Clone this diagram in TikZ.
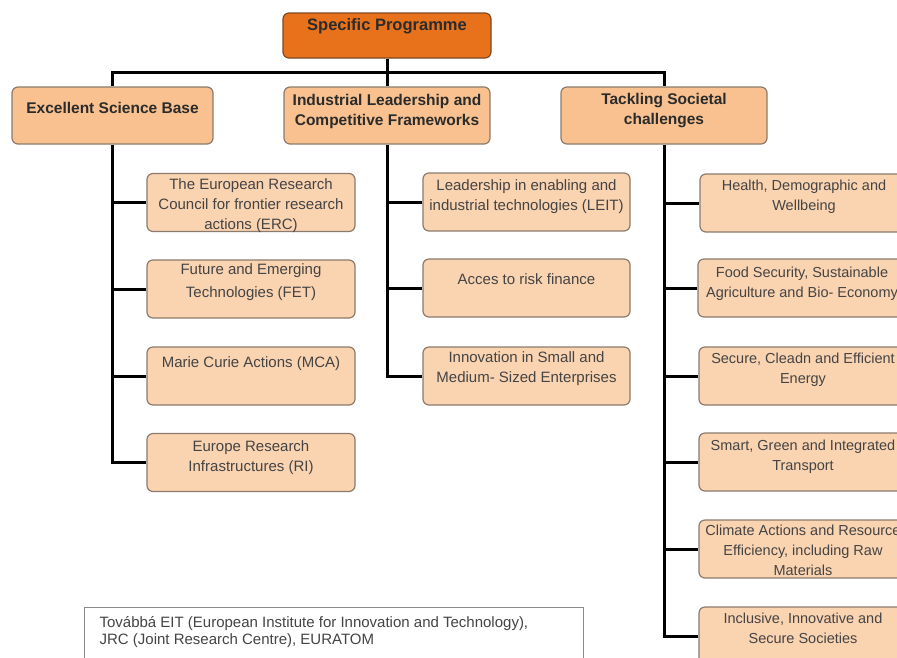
\documentclass[tikz,border=0pt]{standalone}
\usepackage{fontspec}
\setmainfont{Liberation Sans}
\definecolor{topfill}{HTML}{E8721C}
\definecolor{topdraw}{HTML}{7E4A24}
\definecolor{lvfill}{HTML}{F8C18F}
\definecolor{chfill}{HTML}{FAD3B1}
\definecolor{bxdraw}{HTML}{8C7B6C}
\definecolor{hdtxt}{HTML}{2B2B2B}
\definecolor{chtxt}{HTML}{444444}
\definecolor{notedraw}{HTML}{8A8A8A}
\newcommand{\tx}[4]{\vbox to #1pt{\vskip #3pt\hbox to #2pt{\hss\begin{tabular}[t]{@{}c@{}}#4\end{tabular}\hss}\vss}}
\begin{document}
\begin{tikzpicture}[x=1pt,y=-1pt,
  box/.style={draw=bxdraw, line width=1.2pt, rounded corners=6pt, inner sep=0pt},
  topbox/.style={box, fill=topfill, draw=topdraw, text=hdtxt, font=\bfseries\fontsize{16.5}{20}\selectfont},
  lvbox/.style={box, fill=lvfill, text=hdtxt, font=\bfseries\fontsize{15.5}{20.5}\selectfont},
  chbox/.style={box, fill=chfill, text=chtxt, font=\fontsize{15}{20}\selectfont},
  rchbox/.style={chbox, font=\fontsize{14.5}{20}\selectfont},
  notebox/.style={draw=notedraw, line width=1.2pt, inner sep=0pt, fill=white, text=chtxt, font=\fontsize{15}{17}\selectfont},
  conn/.style={line width=3pt, black},
]
\clip (0,0) rectangle (897,657);
\fill[white] (0,0) rectangle (897,657);

% top
\node[topbox] (sp) at (387,35.5) {\tx{45}{208}{3.5}{Specific Programme}};

% level 1
\node[lvbox] (esb) at (112.5,115.5) {\tx{57}{201}{11.65}{Excellent Science Base}};
\node[lvbox] (ilc) at (387,115.5) {\tx{57}{206}{3.65}{Industrial Leadership and\\Competitive Frameworks}};
\node[lvbox] (tsc) at (664,115.5) {\tx{57}{206}{2.65}{Tackling Societal\\challenges}};

% left children
\node[chbox] (erc) at (251,202.5) {\tx{58}{208}{1.5}{The European Research\\Council for frontier research\\actions (ERC)}};
\node[chbox] (fet) at (251,289) {\tx{58}{208}{0}{Future and Emerging\\[3pt]Technologies (FET)}};
\node[chbox] (mca) at (251,376) {\tx{58}{208}{6.5}{Marie Curie Actions (MCA)}};
\node[chbox] (ri) at (251,462.5) {\tx{58}{208}{3.5}{Europe Research\\Infrastructures (RI)}};

% middle children
\node[chbox] (leit) at (526.5,202) {\tx{58}{207}{3.5}{Leadership in enabling and\\industrial technologies (LEIT)}};
\node[chbox] (acces) at (526.5,288) {\tx{58}{207}{11.5}{Acces to risk finance}};
\node[chbox] (innov) at (526.5,376) {\tx{58}{207}{1.5}{Innovation in Small and\\Medium- Sized Enterprises}};

% right children
\node[rchbox] (health) at (804,203) {\tx{58}{208}{2.5}{Health, Demographic and\\Wellbeing}};
\node[rchbox] (food) at (802,288) {\tx{58}{208}{4}{Food Security, Sustainable\\Agriculture and Bio- Economy}};
\node[rchbox] (secure) at (803,376) {\tx{58}{208}{2.5}{Secure, Cleadn and Efficient\\Energy}};
\node[rchbox] (smart) at (803,462) {\tx{58}{208}{3.5}{Smart, Green and Integrated\\Transport}};
\node[rchbox] (climate) at (803,549) {\tx{58}{208}{1.5}{Climate Actions and Resource\\Efficiency, including Raw\\Materials}};
\node[rchbox] (incl) at (803,636) {\tx{58}{208}{2.5}{Inclusive, Innovative and\\Secure Societies}};

% note
\node[notebox, anchor=north west] (note) at (84,607) {\vbox to 70pt{\vskip 8pt\hbox to 499pt{\hskip 15pt\begin{tabular}[t]{@{}l@{}}Továbbá EIT (European Institute for Innovation and Technology),\\JRC (Joint Research Centre), EURATOM\end{tabular}\hss}\vss}};

% connectors
\coordinate (bus) at (387,72);
\draw[conn] (sp.south) -- (ilc.north);
\draw[conn] (esb.north) |- (bus) -| (tsc.north);

\draw[conn] (esb.south) |- (ri.west);
\foreach \n in {erc,fet,mca} \draw[conn] (esb.south |- \n.west) -- (\n.west);

\draw[conn] (ilc.south) |- (innov.west);
\foreach \n in {leit,acces} \draw[conn] (ilc.south |- \n.west) -- (\n.west);

\draw[conn] (tsc.south) |- (incl.west);
\foreach \n in {health,food,secure,smart,climate} \draw[conn] (tsc.south |- \n.west) -- (\n.west);
\end{tikzpicture}
\end{document}
